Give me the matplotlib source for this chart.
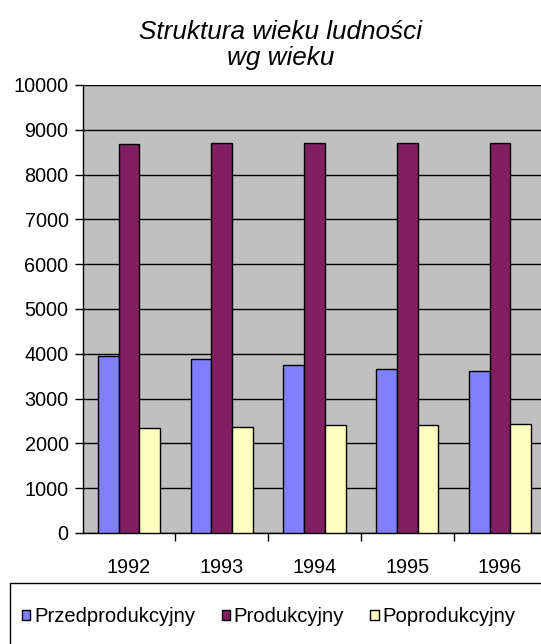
import numpy as np
import matplotlib
matplotlib.use("Agg")
import matplotlib.pyplot as plt
from matplotlib.patches import Rectangle

plt.rcParams['font.family'] = ['Liberation Sans', 'DejaVu Sans']

# data
years = ['1992', '1993', '1994', '1995', '1996']
przed = [3958, 3877, 3743, 3661, 3616]
prod = [8676, 8699, 8700, 8700, 8700]
popr = [2344, 2373, 2404, 2417, 2440]
series = ['Przedprodukcyjny', 'Produkcyjny', 'Poprodukcyjny']
colors = ['#8080FF', '#802060', '#FFFFC0']

fig = plt.figure(figsize=(5.41, 6.44), dpi=100)
W, H = 541, 644
# axes spans past the right edge, like the original crop
ax = fig.add_axes([82.5 / W, 1 - 533 / H, 464 / W, 448 / H])
ax.set_facecolor('#C0C0C0')

x = np.arange(len(years))
bw = 0.224
for i, (vals, c) in enumerate(zip([przed, prod, popr], colors)):
    ax.bar(x + (i - 1) * bw, vals, bw, color=c, edgecolor='black', linewidth=1.0,
           label=series[i], zorder=3)

ax.set_xlim(-0.5, len(years) - 0.5)
ax.set_ylim(0, 10000)
ax.set_yticks(np.arange(0, 10001, 1000))
ax.yaxis.grid(True, color='black', linewidth=1.0, zorder=1)
ax.set_axisbelow(True)

ax.set_xticks(x)
ax.set_xticklabels(years)
ax.set_xticks(np.arange(0.5, len(years) - 0.5, 1), minor=True)
ax.tick_params(axis='x', which='major', length=0, pad=18, labelsize=14.3)
ax.tick_params(axis='x', which='minor', length=6, width=1, direction='out')
ax.tick_params(axis='y', length=6, width=1, direction='out', pad=4, labelsize=14.3)

for s in ['top', 'right']:
    ax.spines[s].set_visible(False)
for s in ['left', 'bottom']:
    ax.spines[s].set_color('black')
    ax.spines[s].set_linewidth(1.0)

fig.text(0.518, 1 - 45 / H, 'Struktura wieku ludności\nwg wieku', ha='center', va='center',
         fontsize=18.8, style='italic', linespacing=1.12)

# legend box
fig.patches.append(Rectangle((10 / W, -0.1), 1.0, 0.1 + (644 - 583) / H,
                             transform=fig.transFigure, facecolor='white',
                             edgecolor='black', linewidth=1.0))
handles, labels = ax.get_legend_handles_labels()
fig.legend(handles, labels, loc='center left', bbox_to_anchor=(22 / W, 1 - 617 / H),
           ncol=3, frameon=False, fontsize=14.6, handlelength=0.4, handleheight=0.4,
           handletextpad=0.2, columnspacing=1.3, borderpad=0, borderaxespad=0)

fig.savefig('out.png', dpi=100)
